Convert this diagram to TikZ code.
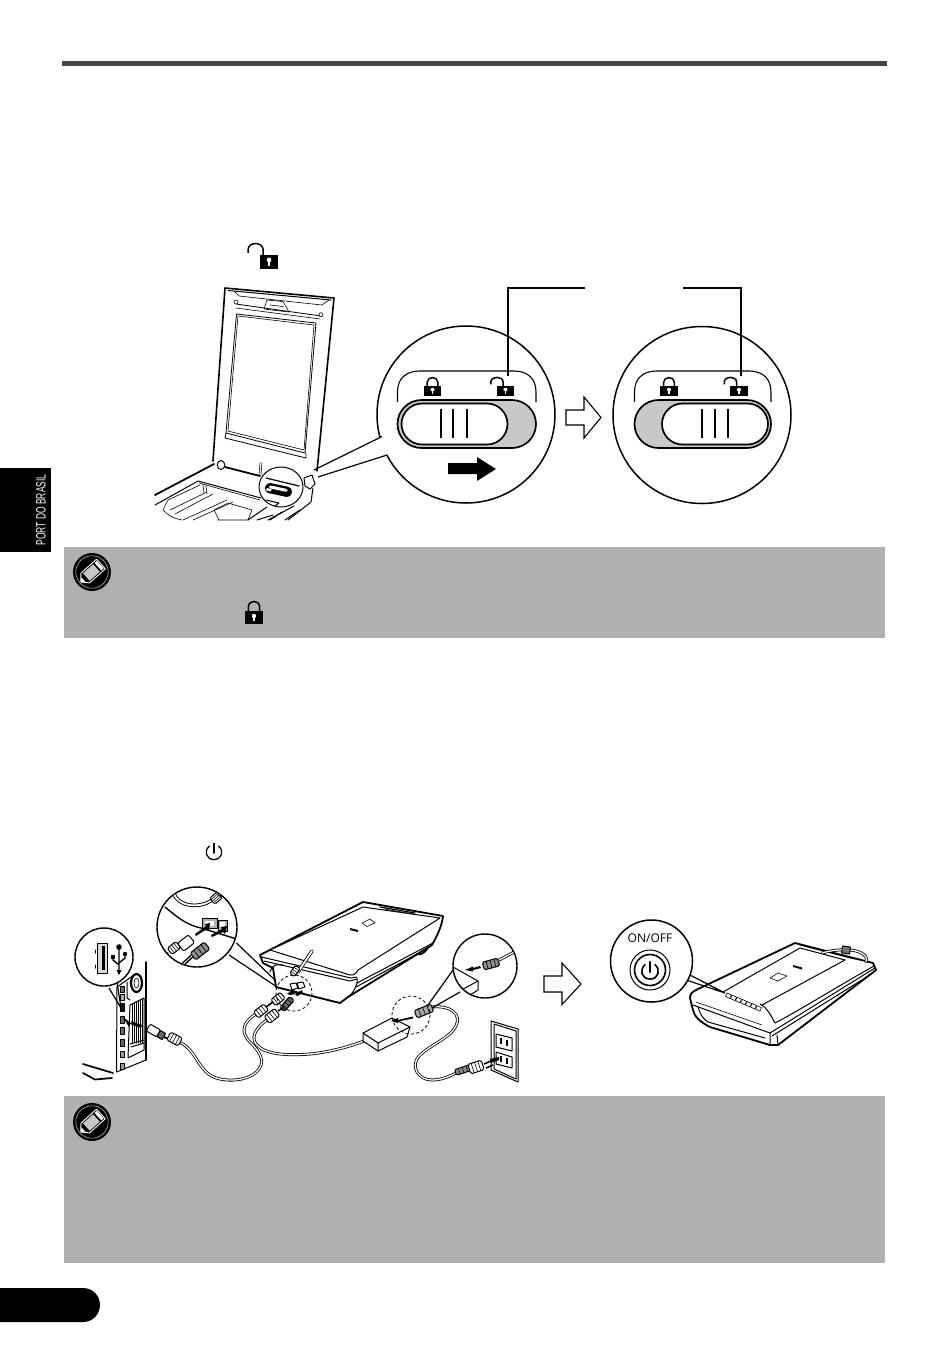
\documentclass[tikz,border=0pt]{standalone}
\usepackage{fontspec}
\setmainfont{Liberation Sans}
\newfontfamily\onofffont{Open Sans}
\usetikzlibrary{arrows.meta}
\definecolor{notegray}{HTML}{B0B0B0}
\definecolor{trackgray}{HTML}{C8C8C8}
\definecolor{rulegray}{HTML}{454545}
\tikzset{
  ln/.style={line width=0.5pt,line join=round,line cap=round},
  thn/.style={line width=0.3pt,line join=round,line cap=round},
  thk/.style={line width=0.9pt,line join=round,line cap=round},
  lead/.style={line width=0.95pt},
  cable/.style={line width=0.4pt,double=white,double distance=0.65pt,line cap=round},
  blockarrow/.style={line width=0.55pt,fill=white,line join=miter},
  dashcirc/.style={line width=0.4pt,dash pattern=on 1.5pt off 1.2pt},
}
\newcommand\closedlock[4]{\begin{scope}[shift={(#1,#2)},xscale=#3,yscale=#4]
  \draw[line width=0.75pt] (-5.6,0.5) -- (-5.6,-4) .. controls (-5.6,-11.5) and (5.6,-11.5) .. (5.6,-4) -- (5.6,0.5);
  \fill (-9,0) rectangle (9,13);
  \fill[white] (0,5) circle [radius=2.2];
  \fill[white] (-1,5) rectangle (1,10);
\end{scope}}
% x y xs ys leftleg rightleg
\newcommand\openlock[6]{\begin{scope}[shift={(#1,#2)},xscale=#3,yscale=#4]
  \draw[line width=0.75pt] (#6,0.5) -- (#6,-4) .. controls (#6,-12) and (#5,-12) .. (#5,-4) -- (#5,-1.5);
  \fill (-9,0) rectangle (9,13);
  \fill[white] (0,5) circle [radius=2.2];
  \fill[white] (-1,5) rectangle (1,10);
\end{scope}}
\newcommand\noteicon[2]{\begin{scope}[shift={(#1,#2)}]
  \fill (0,0) circle [radius=19];
  \draw[notegray,line width=0.3pt] (0,0) circle [radius=16.2];
  \begin{scope}[rotate=42]
    \draw[white,line width=0.45pt,fill=black,line join=round] (-9,-6.5) -- (12,-6.5) -- (12,6.5) -- (-9,6.5) -- (-15,0) -- cycle;
    \fill[white] (-15,0) -- (-11.5,-3) -- (-11.5,3) -- cycle;
    \fill[white!78!black] (-7.5,-5) rectangle (6,5);
    \draw[black,line width=0.35pt] (7,-6) -- (7,6);
    \fill[white] (8,-5) rectangle (11,5);
  \end{scope}
\end{scope}}
\newcommand\powerglyph[4]{% x y r lw
  \draw[line width=#4,line cap=round] ({#1+#3*0.62},{#2-#3*0.78}) .. controls ({#1+#3*1.35},{#2-#3*0.25}) and ({#1+#3*1.1},{#2+#3*1.02}) .. ({#1},{#2+#3}) .. controls ({#1-#3*1.1},{#2+#3*1.02}) and ({#1-#3*1.35},{#2-#3*0.25}) .. ({#1-#3*0.62},{#2-#3*0.78});
  \draw[line width=#4,line cap=round] (#1,{#2-#3*1.15}) -- (#1,{#2+#3*0.15});
}
\newcommand\switchbox[4]{% left, right, sliderL, sliderR
  \draw[line width=0.55pt] (#1,402) -- (#1,392) .. controls (#1,379) and ({#1+8},371) .. ({#1+22},371) -- ({#2-22},371) .. controls ({#2-8},371) and (#2,379) .. (#2,392) -- (#2,402);
  \draw[fill=trackgray,line width=0.85pt,rounded corners=12pt] (#1,400) rectangle (#2,448);
  \draw[fill=white,line width=0.85pt,rounded corners=10.25pt] (#3,403.5) rectangle (#4,444.5);
}
% ribbed plug: x y (centre), canvas angle, length, width, head colour
\newcommand\plugpart[6]{\begin{scope}[shift={(#1,#2)},rotate=#3]
  \draw[ln,fill=#6,rounded corners=0.8pt] ({-#4/2},{-#5/2}) rectangle ({#4/2},{#5/2});
  \foreach \t in {-0.25,0,0.25} {\draw[thn] ({#4*\t},{-#5/2}) -- ({#4*\t},{#5/2});}
\end{scope}}
\begin{document}
\begin{tikzpicture}[x=0.5pt,y=-0.5pt]
\useasboundingbox (0,0) rectangle (950,1346);
% page furniture
\fill[rulegray] (62,61) rectangle (887,66);
\fill (0,468) rectangle (51,552);
\node[white,rotate=90,inner sep=0pt] (tab) at (41,510) {\scalebox{0.62}[1]{\fontsize{6.8pt}{7pt}\selectfont PORT DO BRASIL}};
\fill[notegray] (64,547) rectangle (885,638);
\fill[notegray] (64,1096) rectangle (885,1263);
\fill (0,1288) -- (83,1288) .. controls (93,1288) and (100,1296) .. (100,1305) .. controls (100,1314) and (93,1322) .. (83,1322) -- (0,1322) -- cycle;
\noteicon{92}{572}
\noteicon{92}{1122}
\closedlock{254}{611}{1}{1}
\openlock{269}{254.5}{1.05}{1.1}{-20}{-5.5}
\powerglyph{214}{852}{7.5}{0.6pt}

% ---------- upper figure: lid
\draw[thk,line width=0.8pt,fill=white] (213,461) -- (225,288) -- (334,298) -- (317,471);
\draw[ln] (228,290.5) -- (331,300);
\draw[thn] (234,291) -- (239,296) -- (322,305) -- (329,300);
\draw[ln,line width=0.4pt] (236,304) -- (321,316);
\draw[thn] (236,308) -- (320,319);
\draw[thn,fill=white] (236,302) circle [radius=2] (321,314.7) circle [radius=2];
\draw[thn] (267,300) -- (283,301.5) (267,300) -- (264,309) -- (289,312) -- (283,301.5) (270,305) -- (283,306.5);
\draw[ln,line width=0.4pt] (236.5,314) -- (316,323) -- (305,453) -- (226,433) -- cycle;
\draw[thn] (238,316) -- (314,325) -- (304,450) -- (228,431) -- cycle;
\draw[ln,line width=0.4pt] (226,433) -- (225,438) -- (306,458) -- (306,453);
% base
\draw[thk] (155,495) -- (214,464);
\draw[ln,fill=white] (221,465) circle [x radius=3.8,y radius=4.5];
\draw[thk] (225,467) -- (260,476);
\draw[thn] (260,463) -- (259,475) (262,463) -- (261,475);
\draw[ln] (155,505) -- (198,481) -- (261,498);
\draw[thn] (199,483) -- (260,500) (203,485) -- (204,493) (206,486) -- (207,494);
\draw[thn] (163,510) -- (168,500) -- (200,485) (163,510) .. controls (168,515) and (172,518) .. (182,520);
\draw[thn] (170,510) -- (207,492) (175,514) -- (213,494) (183,520) -- (227,500) (193,520) -- (233,502);
\draw[thn] (228,503) -- (214,510) -- (219,520) (218,520) -- (248,520) -- (252,510) -- (228,503);
\draw[ln] (248,520) -- (267,507) (257,520) -- (273,515) (270,520) -- (282,512) (285,520) -- (300,510);
\draw[ln] (294,506) -- (268,520) (313,488) -- (311,502) -- (288,520);
\draw[ln,fill=white] (304,478) -- (312,475) -- (315,484) -- (310,489) -- (305,486) -- cycle;
% small magnifier
\draw[ln,fill=white] (281,487) ellipse [x radius=22,y radius=20];
\draw[thk,line width=0.6pt] (266,478) -- (299,486);
\begin{scope}[shift={(278.5,490)},rotate=-12]
  \draw[line width=0.6pt,fill=black,rounded corners=2pt] (-13,-4.5) rectangle (13,4.5);
  \fill[white,rounded corners=1pt] (-10,-2.8) rectangle (9,0.2);
  \fill[white] (-12,0.5) rectangle (-7,3);
\end{scope}
\draw[ln] (266,500) -- (279,503) -- (275,506);
% big magnifiers
\draw[line width=0.75pt,fill=white] (466,414.5) ellipse [x radius=89,y radius=88.5];
\draw[white,line width=2.4pt] (380.5,437) -- (385,456);
\draw[line width=0.6pt] (314,470) -- (382,436.5) (318,477) -- (387,455);
\draw[line width=0.75pt,fill=white] (702,415) ellipse [x radius=89,y radius=88.5];
\switchbox{397.5}{536}{401.5}{507.5}
\switchbox{634.5}{771}{662}{768}
\foreach \i in {441,453,467} {\draw[line width=0.7pt] (\i,409) -- (\i,438);}
\foreach \i in {702,715,728} {\draw[line width=0.7pt] (\i,409) -- (\i,438);}
\closedlock{432.5}{385.5}{0.95}{0.82}
\openlock{505.5}{385.5}{0.95}{0.82}{-15.5}{-2.5}
\closedlock{669}{385.5}{0.95}{0.82}
\openlock{739}{385.5}{0.95}{0.82}{-15.5}{-2.5}
\draw[lead] (585,288) coordinate (la) -- (508,288) -- (508,376) coordinate (lb);
\draw[lead] (683,288) coordinate (lc) -- (741,288) -- (741,376) coordinate (ld);
\fill (448,463) -- (477,463) -- (477,457) -- (496,469) -- (477,481) -- (477,474) -- (448,474) -- cycle;
\draw[blockarrow] (566,410) -- (584,410) -- (584,397) -- (601,417.5) -- (584,438) -- (584,425) -- (566,425) -- cycle;

% ---------- lower figure: computer
\draw[thk,line width=0.85pt] (83,1064) -- (113,1073) (83,1073) -- (95,1079.5) -- (112,1078);
\draw[ln,fill=white] (117,987) -- (134,975) (117,987) -- (116.5,1072) -- (146,1060) -- (146,962);
\draw[ln,line width=0.7pt] (146,962) -- (146,1060);
\draw[line width=1.1pt] (136.5,983) ellipse [x radius=5.5,y radius=9];
\draw[thn] (136.5,983) ellipse [x radius=2.5,y radius=5];
\draw[ln] (127,982) -- (127,998) -- (130,1000);
\foreach \yy/\hh/\cc in {986/6/60,994/6/30,1003/8/90,1016/7/60,1027/7/60,1039/7/60,1051/6/40,1063/6/40} {\draw[ln,fill=black!\cc] (120,\yy) rectangle (124,\yy+\hh);}
\draw[ln] (130,1005) -- (144,998) -- (144,1050) -- (128,1058) -- cycle;
\foreach \xx in {132,134,136,138,140,142} {\draw[thn,line width=0.4pt] (\xx,{1005-(\xx-130)/2}) -- (\xx,1043);}
\draw[ln] (130,1044) -- (144,1040) (131,1047) -- (144,1043);
% USB callout
\draw[line width=0.6pt] (117,982) -- (121,1008) -- (109,988);
\draw[line width=0.7pt,fill=white] (104,957) circle [radius=29];
\draw[ln,fill=black!15] (97,943) rectangle (107,973);
\fill (101.5,946) rectangle (105,970);
\draw[ln] (95.5,950) -- (95.5,953) (95.5,965) -- (95.5,968);
\begin{scope}[shift={(119,960)}]
  \draw[line width=0.7pt] (0,-12) -- (0,12) (0,5) -- (-6,0) -- (-6,-3) (0,3) -- (6,-2) -- (6,-5);
  \fill (0,-13) circle [radius=2.8];
  \fill (-8,-5) rectangle (-4,-1);
  \fill (6,-6) circle [radius=2.2];
  \fill (-2.5,10) -- (2.5,10) -- (0,15) -- cycle;
\end{scope}
% USB plug and cable
\fill (142,1025) -- (131,1021) -- (132,1024) -- (123,1017) -- (129,1027) -- (130,1024) -- (141,1028) -- cycle;
\draw[cable] (181,1043) .. controls (195,1050) and (197,1066) .. (210,1075) .. controls (222,1083) and (250,1082) .. (259,1069) .. controls (266,1060) and (258,1050) .. (250,1042) .. controls (238,1030) and (246,1020) .. (256,1014);
\draw[cable] (268,1019) .. controls (258,1026) and (250,1036) .. (256,1044) .. controls (264,1054) and (285,1056) .. (310,1054) .. controls (330,1052) and (348,1047) .. (364,1041);
\begin{scope}[shift={(156,1032)},rotate=-30]
  \draw[ln,fill=white,rounded corners=0.6pt] (-9,-4) rectangle (3,4);
  \draw[ln,fill=black!60] (3,-3.5) rectangle (9,3.5);
\end{scope}
\draw[line width=0.9pt] (164,1037) -- (169,1039);
\plugpart{174.5}{1039}{-28}{13}{9}{white}
% scanner (left)
\draw[line width=1pt] (412,951) .. controls (416,957) and (424,955) .. (428,947);
\draw[thk,fill=white] (260,955) -- (363,902) -- (443,916) .. controls (442,926) and (437,936) .. (432,945) -- (348,997) -- (340,1003) -- (276,987) -- (273,968) -- (263,963) -- cycle;
\draw[ln,fill=white] (270,950) -- (363,907) -- (440,918) -- (358,970) .. controls (356,974) and (354,975) .. (350,975) -- cycle;
\draw[ln] (261.5,957) -- (351,978) -- (357,977) (264,961) -- (350,981) -- (357,979);
\draw[ln] (357,978) -- (357,983) .. controls (355,990) and (352,994) .. (348,997);
\draw[ln] (357,983) -- (433,943) (356,987) -- (430,947);
\draw[thk,line width=0.6pt] (380,907) -- (415,913);
\draw[thn] (384,909) -- (414,914);
\fill (350,928) -- (358,930) -- (358,932) -- (350,930) -- cycle;
\draw[thn] (362,923) -- (370,919) -- (375,923) -- (367,926.5) -- cycle;
\draw[ln] (270,972) .. controls (272,965) and (276,964) .. (283,965);
\draw[cable,double distance=0.9pt] (298,972) -- (312,951);
\plugpart{295}{971}{55}{10}{6}{white}
\draw[ln,fill=white] (290,984) -- (296,983) -- (298,988) -- (292,990) -- cycle;
\draw[ln,fill=white] (297,983) -- (303,982) -- (305,987) -- (299,989) -- cycle;
\fill (290,995) -- (287,993.5) -- (294,990) -- (295,994) -- cycle;
\fill (297,996) -- (295,994) -- (302,990) -- (303,993) -- cycle;
% scanner plugs
\plugpart{278}{999}{38}{12}{8}{white}
\plugpart{261}{1011}{38}{13}{8}{white}
\draw[line width=0.8pt] (266,1007) -- (273,1002);
\plugpart{287}{1004}{48}{15}{6}{black!60}
\plugpart{272}{1016}{38}{13}{9}{white}
\draw[line width=0.8pt] (278,1011) -- (283,1008);
\draw[dashcirc] (294,993) circle [radius=18];
% scanner callout
\draw[line width=0.6pt] (236.5,943) -- (275,980) (229,955) -- (277,987);
\draw[line width=0.7pt,fill=white] (197,927) circle [radius=40];
\begin{scope}
  \clip (197,927) circle [radius=39.5];
  \draw[cable,line width=0.45pt,double distance=0.9pt] (173,888) .. controls (173,906) and (198,910) .. (212,900);
  \plugpart{216}{898}{-50}{8}{10}{white}
  \draw[cable,line width=0.45pt,double distance=1.6pt] (220,894) -- (232,884);
  \draw[thk,line width=0.7pt] (165,907) .. controls (176,916) and (186,925) .. (201,928) -- (240,940);
  \draw[ln,fill=black!30] (202,918) rectangle (217,928);
  \fill[white] (205,920.5) rectangle (214,925.5);
  \draw[ln,fill=black!30] (218,920) rectangle (227,931);
  \fill[white] (220,922) rectangle (225,927);
  \draw[ln,fill=white,rounded corners=1pt,rotate around={38:(186,943)}] (179,938) rectangle (193,948);
  \plugpart{174}{948}{38}{11}{8}{white}
  \draw[thk,line width=0.7pt] (160,959) -- (168,953);
  \plugpart{200}{951}{38}{18}{9}{black!45}
  \draw[line width=0.75pt,double=white,double distance=0.4pt] (192,956) -- (178,969);
  \fill (210,923) -- (205,924) -- (206,926) -- (195,934) -- (196,936) -- (207,929) -- (209,931) -- cycle;
  \fill (227,926) -- (221,927) -- (222,929) -- (211,935) -- (212,937) -- (223,932) -- (225,934) -- cycle;
\end{scope}
% adapter
\draw[ln,fill=white] (363,1033) -- (392,1018) -- (410,1027) -- (407,1037) -- (378,1051) -- (363,1041) -- cycle;
\draw[ln] (363,1033) -- (378,1043) -- (410,1027) (378,1043) -- (378,1051);
\draw[cable] (432,1007) .. controls (450,1005) and (462,1014) .. (456,1026) .. controls (450,1038) and (430,1045) .. (419,1056) .. controls (410,1066) and (418,1080) .. (432,1080) .. controls (442,1080) and (450,1076) .. (456,1073);
\fill (413,1016.5) -- (398,1020) -- (398,1018) -- (391,1021) -- (398,1023) -- (398,1021.5) -- (413,1018.5) -- cycle;
\plugpart{424}{1011}{22}{18}{8}{black!35}
\draw[dashcirc] (411,1015) circle [radius=19];
% plug callout
\draw[line width=0.6pt] (453,970) -- (428,1005) (460,992) -- (432,1008);
\draw[line width=0.7pt,fill=white] (485,966) circle [radius=32];
\begin{scope}
  \clip (485,966) circle [radius=31.5];
  \draw[ln] (453,967) -- (478,981) -- (478,990) -- (465,998);
  \draw[ln] (478,981) -- (452,995);
  \fill (480,966) -- (473,968) -- (473,966.5) -- (465,970) -- (473,971.5) -- (473,970) -- (481,968) -- cycle;
  \plugpart{491}{964}{15}{16}{8}{black!45}
  \draw[cable] (499,960) -- (516,951);
\end{scope}
% wall plug and outlet
\draw[ln,fill=white] (491,1021) -- (518,1029) -- (518,1082) -- (491,1070) -- cycle;
\draw[ln] (494,1024) -- (516,1031) -- (516,1079) -- (494,1069) -- cycle;
\draw[ln] (496,1034) -- (512,1038) -- (512,1051) -- (496,1047) -- cycle;
\draw[ln] (496,1052) -- (512,1057) -- (512,1068) -- (496,1064) -- cycle;
\draw[line width=0.8pt] (501,1038) -- (501,1044) (507,1040) -- (507,1046) (501,1056) -- (501,1062) (507,1058) -- (507,1064);
\plugpart{463}{1070}{18}{16}{6}{black!45}
\plugpart{476}{1067}{18}{14}{10}{white}
\draw[line width=0.8pt] (484,1064) -- (491,1061) (486,1068) -- (493,1065);
\fill (490,1059) -- (499,1057) -- (499,1060) -- (491,1063) -- cycle;
% middle arrow
\draw[blockarrow] (544,976) -- (562,976) -- (562,963) -- (581,984) -- (562,1004.5) -- (562,992) -- (544,992) -- cycle;
% right scanner
\draw[thk,fill=white] (795,943) -- (873,963) -- (876,970) -- (778,1045) -- (770,1045) -- (710,1027) .. controls (700,1022) and (694,1016) .. (693,1010) -- (690,998) .. controls (690,994) and (692,992) .. (696,990) -- cycle;
\draw[ln] (723,992) -- (800,948) -- (845,960);
\draw[ln] (800,945) -- (855,959);
\draw[ln] (760,1004) .. controls (768,1008) and (772,1018) .. (775,1023) .. controls (800,1010) and (840,985) .. (874,966);
\draw[ln] (762,1005) -- (845,960);
\draw[ln] (693,1005) -- (770,1033) -- (875,968);
\draw[ln] (772,1036) -- (873,973);
\draw[ln] (770,1033) -- (770,1045) (777,1035) -- (778,1045);
\draw[ln] (698,1007) .. controls (700,1014) and (703,1019) .. (708,1022) -- (765,1038);
\draw[thn] (696,1002) -- (762,1025);
\foreach \k in {0,...,6} {
  \draw[thn,fill=white] ({727+\k*5},{993+\k*2.1}) -- ({731.5+\k*5},{995+\k*2.1}) -- ({730+\k*5},{998.5+\k*2.1}) -- ({725.5+\k*5},{996.5+\k*2.1}) -- cycle;
}
\fill (793,965) -- (802,967.5) -- (802,969.5) -- (793,967) -- cycle;
\draw[thn] (770,978) -- (778,973) -- (787,976) -- (778,981) -- cycle;
\draw[cable] (822,953) .. controls (835,949) and (855,948) .. (863,954) .. controls (867,957) and (867,960) .. (866,962);
\draw[ln,fill=black!55,rotate around={-8:(846,950)}] (842,946.5) rectangle (850,953.5);
% ON/OFF callout
\draw[line width=0.6pt] (686,973) -- (725,993) (680,978) -- (725,993);
\draw[line width=0.75pt,fill=white] (651.5,961) circle [radius=41];
\node[inner sep=0pt] (onoff) at (650,938.5) {\onofffont\fontsize{6pt}{7pt}\selectfont ON/OFF};
\draw[line width=0.5pt] (650,970) circle [radius=20];
\draw[line width=0.8pt] (650,970) circle [radius=15.5];
\powerglyph{650}{971}{8}{0.8pt}
\end{tikzpicture}
\end{document}
